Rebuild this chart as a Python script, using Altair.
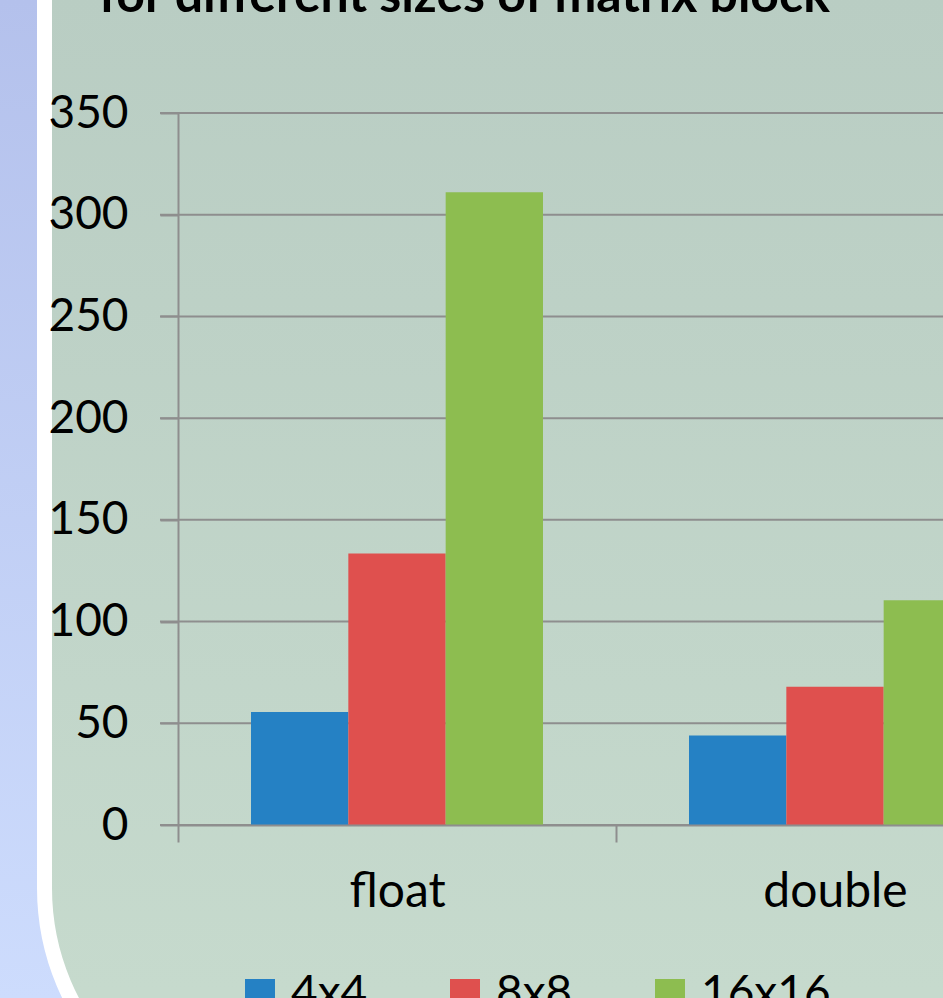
import altair as alt
import pandas as pd

categories = ["float", "double"]
sizes = ["4x4", "8x8", "16x16"]
values_4x4 = [55.5, 44]
values_8x8 = [133.5, 68]
values_16x16 = [311, 110.5]
size_colors = ["#2581c4", "#df504e", "#8dbd50"]
y_ticks = [0, 50, 100, 150, 200, 250, 300, 350]
title_text = "for different sizes of matrix block"

rows = []
for i, c in enumerate(categories):
    for s, vals in zip(sizes, [values_4x4, values_8x8, values_16x16]):
        rows.append({"type": c, "size": s, "value": vals[i]})
df = pd.DataFrame(rows)
grid_df = pd.DataFrame({"value": y_ticks})

FONT = "Lato"
GREY = "#8e8e8e"
one = alt.Data(values=[{}])

lav = alt.Gradient(
    gradient="linear", x1=0, y1=0, x2=0, y2=1,
    stops=[alt.GradientStop(color="#b4c1ec", offset=0),
           alt.GradientStop(color="#cddcfd", offset=1)],
)
green = alt.Gradient(
    gradient="linear", x1=0, y1=0, x2=0, y2=1,
    stops=[alt.GradientStop(color="#b9cdc3", offset=0.2),
           alt.GradientStop(color="#c6dacd", offset=0.9)],
)

yscale = alt.Scale(domain=[0, 350], nice=False)
yaxis = alt.Axis(title=None, values=y_ticks, labelFont=FONT,
                 labelFontSize=46, labelColor="black",
                 tickSize=18, tickColor=GREY, tickWidth=2,
                 domainColor=GREY, domainWidth=2,
                 grid=False, zindex=1, labelPadding=32)

bg = alt.Chart(one).mark_rect(fill=lav).encode(
    x=alt.value(-178), x2=alt.value(765), y=alt.value(-113), y2=alt.value(885)
)
panel = alt.Chart(one).mark_rect(
    fill=green, stroke="white", strokeWidth=15, cornerRadius=245
).encode(
    x=alt.value(-133.5), x2=alt.value(1300), y=alt.value(-400), y2=alt.value(1020)
)
title = alt.Chart(one).mark_text(
    text=title_text, font=FONT, fontWeight="bold", fontSize=50,
    align="left", baseline="alphabetic", color="black"
).encode(x=alt.value(-79), y=alt.value(-101))

grid = alt.Chart(grid_df).mark_rule(color=GREY, strokeWidth=2).encode(
    y=alt.Y("value:Q", scale=yscale, axis=yaxis),
    x=alt.value(-18), x2=alt.value(765),
)

bars = alt.Chart(df).mark_bar().encode(
    x=alt.X("type:N", sort=categories,
            scale=alt.Scale(range=[0, 876], paddingInner=0, paddingOuter=0),
            axis=alt.Axis(title=None, tickBand="extent", labelAngle=0,
                          labelFont=FONT, labelFontSize=48, labelColor="black",
                          tickSize=17, tickColor=GREY, tickWidth=2,
                          domainColor=GREY, domainWidth=2,
                          labelPadding=26, grid=False, zindex=1)),
    xOffset=alt.XOffset("size:N", sort=sizes,
                        scale=alt.Scale(paddingOuter=0.75, paddingInner=0)),
    y=alt.Y("value:Q", scale=yscale, axis=yaxis),
    color=alt.Color("size:N", sort=sizes,
                    scale=alt.Scale(domain=sizes, range=size_colors),
                    legend=alt.Legend(orient="none", legendX=59, legendY=858,
                                      direction="horizontal", title=None,
                                      symbolType="square", symbolSize=900,
                                      symbolStrokeWidth=0, labelFont=FONT,
                                      labelFontSize=46, labelColor="black",
                                      labelOffset=8, columnPadding=74)),
)

chart = alt.layer(bg, panel, title, grid, bars).properties(
    width=765, height=712,
    autosize=alt.AutoSizeParams(type="none"),
    padding={"left": 178, "top": 113, "right": 0, "bottom": 173},
    background="#c6d4f4",
).configure_view(strokeWidth=0)

chart.save("out.html", embed_options={"renderer": "svg", "actions": False})
